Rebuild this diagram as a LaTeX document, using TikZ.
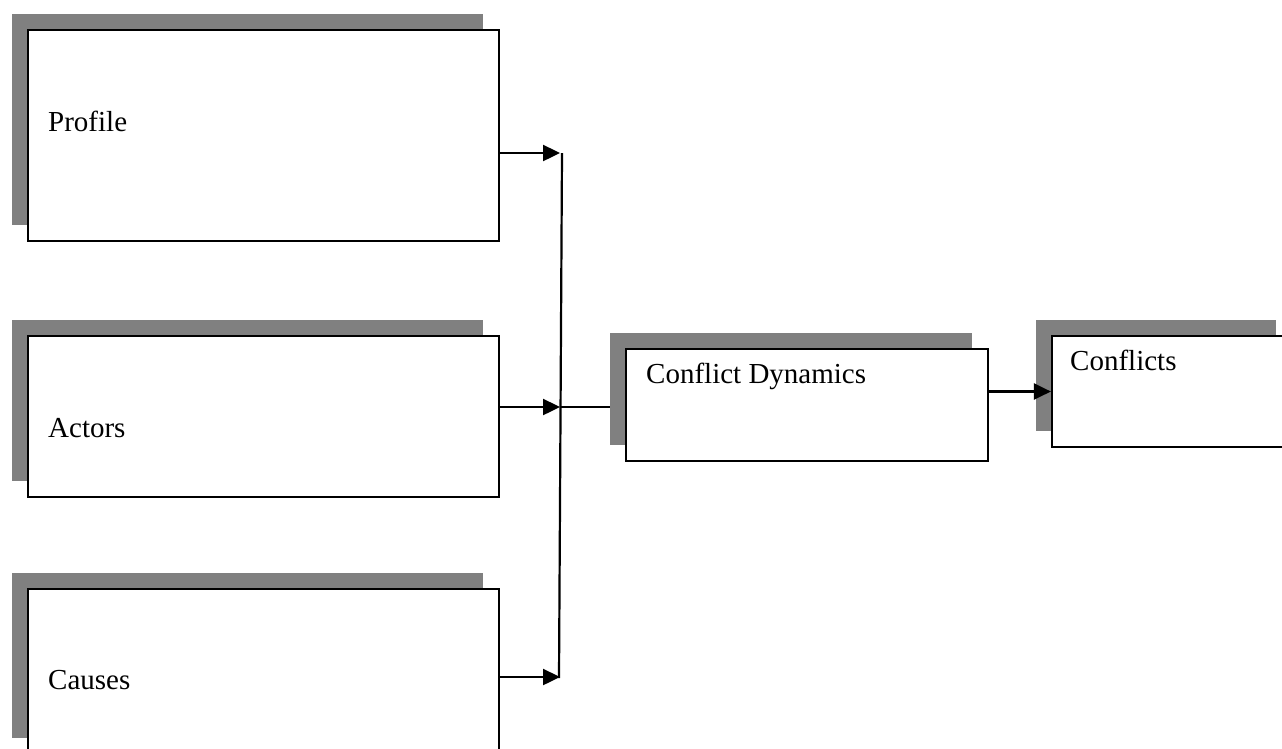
\documentclass[tikz,border=0pt]{standalone}
\usepackage{fontspec}
\setmainfont{Liberation Serif}
\usetikzlibrary{arrows.meta,shadows}
\pgfdeclarelayer{background}
\pgfsetlayers{background,main}
\begin{document}
\begin{tikzpicture}[x=1pt,y=-1pt,
  panel/.style={draw=black,line width=2.2pt,fill=white,rectangle,inner sep=0pt,
    drop shadow={shadow xshift=-16pt,shadow yshift=16pt,fill={rgb,255:red,128;green,128;blue,128},opacity=1}},
  caption/.style={anchor=base west,inner sep=0pt,font=\fontsize{29}{34}\selectfont},
  link/.style={line width=2.2pt},
  arr/.style={line width=2.4pt,-{Triangle[length=17pt,width=16pt]}}]
\useasboundingbox (0,0) rectangle (1282,748);

% input panels
\node[panel,minimum width=471pt,minimum height=211pt] (profile) at (263.5,135.5) {};
\node[panel,minimum width=471pt,minimum height=161pt] (actors) at (263.5,416.5) {};
\node[panel,minimum width=471pt,minimum height=165pt] (causes) at (263.5,671.5) {};
% result panels
\node[panel,minimum width=362pt,minimum height=112pt] (dyn) at (807,405) {};
\node[panel,minimum width=240pt,minimum height=111pt] (conf) at (1172,391.5) {};

% captions
\node[caption] (tprofile) at (48,131) {Profile};
\node[caption] (tactors) at (48,437) {Actors};
\node[caption] (tcauses) at (48,689) {Causes};
\node[caption] (tdyn) at (646,383) {Conflict Dynamics};
\node[caption] (tconf) at (1070,370) {Conflicts};

% collector bar
\coordinate (jp) at (560,153);
\coordinate (ja) at (560,407);
\coordinate (jc) at (560,677);
\coordinate (bartop) at (562,153);
\coordinate (barbot) at (559,678);

\draw[arr] (profile.east |- jp) -- (jp);
\draw[arr] (actors.east |- ja) -- (ja);
\draw[arr] (causes.east |- jc) -- (jc);
\draw[link] (bartop) -- (barbot);
\begin{pgfonlayer}{background}
\draw[link] (ja) -- (dyn.west |- ja);
\end{pgfonlayer}
\draw[arr] (dyn.east |- conf.west) -- (conf.west);
\end{tikzpicture}
\end{document}
